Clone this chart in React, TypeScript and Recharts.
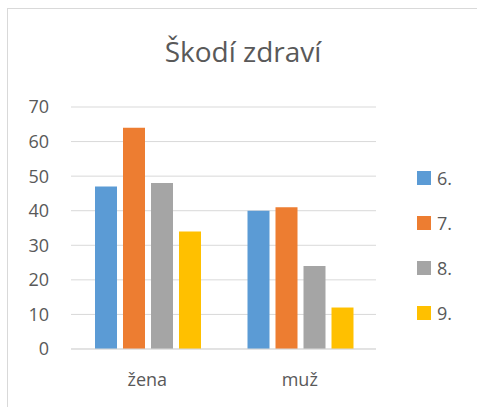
import { BarChart, Bar, XAxis, YAxis, CartesianGrid } from 'recharts'

const categories = ['žena', 'muž']
const grade6 = [47, 40]
const grade7 = [64, 41]
const grade8 = [48, 24]
const grade9 = [34, 12]
const yTicks = [0, 10, 20, 30, 40, 50, 60, 70]

const series = [
  { key: 'g6', name: '6.', color: '#5b9bd5', values: grade6 },
  { key: 'g7', name: '7.', color: '#ed7d31', values: grade7 },
  { key: 'g8', name: '8.', color: '#a5a5a5', values: grade8 },
  { key: 'g9', name: '9.', color: '#ffc000', values: grade9 },
]

const data = categories.map((c, i) => {
  const row: Record<string, string | number> = { name: c }
  series.forEach(s => { row[s.key] = s.values[i] })
  return row
})

const font = '"Open Sans", sans-serif'
const textColor = '#595959'

// legend drawn outside the svg so it doesn't shrink the plot area
function LegendBox() {
  return (
    <div style={{ position: 'absolute', left: 417, top: 155, fontFamily: font }}>
      {series.map(s => (
        <div key={s.key} style={{ display: 'flex', alignItems: 'center', height: 45 }}>
          <span style={{ width: 14, height: 14, background: s.color, display: 'inline-block', marginRight: 6 }} />
          <span style={{ fontSize: 18, color: textColor }}>{s.name}</span>
        </div>
      ))}
    </div>
  )
}

export default function App() {
  return (
    <div style={{ position: 'absolute', left: 0, top: 0, width: 477, height: 407, background: '#fff', overflow: 'hidden' }}>
      <div style={{ position: 'absolute', left: 7, top: 8, width: 480, height: 410, border: '1px solid #d9d9d9' }} />
      <div style={{ position: 'absolute', left: 0, width: 486, top: 32, textAlign: 'center', fontFamily: font, fontSize: 28, color: textColor }}>
        Škodí zdraví
      </div>
      <div style={{ position: 'absolute', left: 0, top: 0 }}>
        <BarChart width={477} height={407} data={data}
          margin={{ top: 107, right: 101, bottom: 18, left: 0 }}
          barCategoryGap={24} barGap={6}>
          <CartesianGrid stroke="#d9d9d9" vertical={false} />
          <XAxis dataKey="name" height={40} axisLine={{ stroke: '#d9d9d9' }} tickLine={false} tickMargin={18}
            tick={{ fill: textColor, fontSize: 18, fontFamily: font }} />
          <YAxis width={71} domain={[0, 70]} ticks={yTicks} axisLine={false} tickLine={false} tickMargin={16}
            tick={{ fill: textColor, fontSize: 18, fontFamily: font }} />
          {series.map(s => (
            <Bar key={s.key} dataKey={s.key} name={s.name} fill={s.color} isAnimationActive={false} />
          ))}
        </BarChart>
      </div>
      <LegendBox />
    </div>
  )
}
